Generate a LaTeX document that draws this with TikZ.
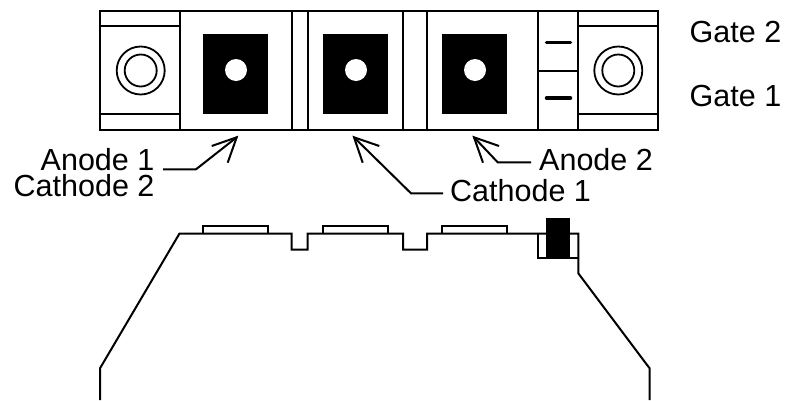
\documentclass[tikz,border=0pt]{standalone}
\usepackage{fontspec}
\setmainfont{Liberation Sans}
\tikzset{
  ln/.style={draw=black,line width=2pt,line join=miter},
  blk/.style={fill=black,draw=none},
  hole/.style={fill=white,draw=none,circle,minimum size=22pt,inner sep=0pt},
  lab/.style={anchor=base west,inner sep=0pt,font=\fontsize{30.5}{30.5}\selectfont},
  ring/.style={draw=black,line width=1.8pt,circle,inner sep=0pt,fill=white}
}
\begin{document}
\begin{tikzpicture}[x=1pt,y=-1pt]
\useasboundingbox (0,0) rectangle (787,400);
\fill[white] (0,0) rectangle (787,400);
% top view
\draw[ln] (100,10.5) rectangle (658,129.5);
\foreach \x in {179.5,291.5,307.5,403,427,538,577.5} \draw[ln] (\x,10.5) -- (\x,129.5);
\draw[ln] (100,26) -- (179.5,26) (100,114) -- (179.5,114);
\draw[ln] (577.5,26) -- (658,26) (577.5,114) -- (658,114);
\draw[ln] (538,70.5) -- (577.5,70.5);
\foreach \x in {203,323,442} {
  \fill[blk] (\x,34) rectangle (\x+65,114);
  \node[hole] (h\x) at (\x+33,70) {};
}
\foreach \x/\n in {140.7/l,618.3/r} {
  \node[ring,minimum size=48pt] (o\n) at (\x,70.5) {};
  \node[ring,minimum size=32pt] (i\n) at (\x,70.5) {};
}
\draw[line width=3.5pt,line cap=round] (546.5,42.5) -- (570.5,42.5) (546.5,98) -- (570.5,98);
% labels
\node[lab] (g2) at (689.5,42.3) {Gate 2};
\node[lab] (g1) at (689.5,106) {Gate 1};
\node[lab] (a1) at (40.5,170) {Anode 1};
\node[lab] (c2) at (13.5,196.7) {Cathode 2};
\node[lab] (c1) at (450,201.7) {Cathode 1};
\node[lab] (a2) at (539,170) {Anode 2};
% arrows
\coordinate (t1) at (236.7,137.3);
\coordinate (t2) at (354,137.3);
\coordinate (t3) at (474,137.3);
\draw[ln] (163,169.3) -- (196,169.3) -- (t1);
\draw[ln] (211.7,146) -- (t1) -- (227.7,162.7);
\draw[ln] (443,193.3) -- (411,193.3) -- (t2);
\draw[ln] (379.3,146) -- (t2) -- (362.7,162.7);
\draw[ln] (531,162.3) -- (497.7,162.3) -- (t3);
\draw[ln] (499,146) -- (t3) -- (483,162.7);
% side view
\draw[ln] (100,400) -- (100,368.3) -- (179.5,233.5) -- (291.5,233.5) -- (291.5,249.7) -- (307.5,249.7) -- (307.5,233.5) -- (403,233.5) -- (403,249.7) -- (427,249.7) -- (427,233.5) -- (578.3,233.5) -- (578.3,273.3) -- (649.6,368.3) -- (649.6,400);
\foreach \x in {203.3,323,442.3} \draw[ln] (\x,233.5) -- (\x,225.7) -- (\x+65,225.7) -- (\x+65,233.5);
\draw[ln] (538.3,233.5) -- (538.3,257.7) -- (578.3,257.7);
\fill[blk] (546,218.3) rectangle (570,257.7);
\end{tikzpicture}
\end{document}
